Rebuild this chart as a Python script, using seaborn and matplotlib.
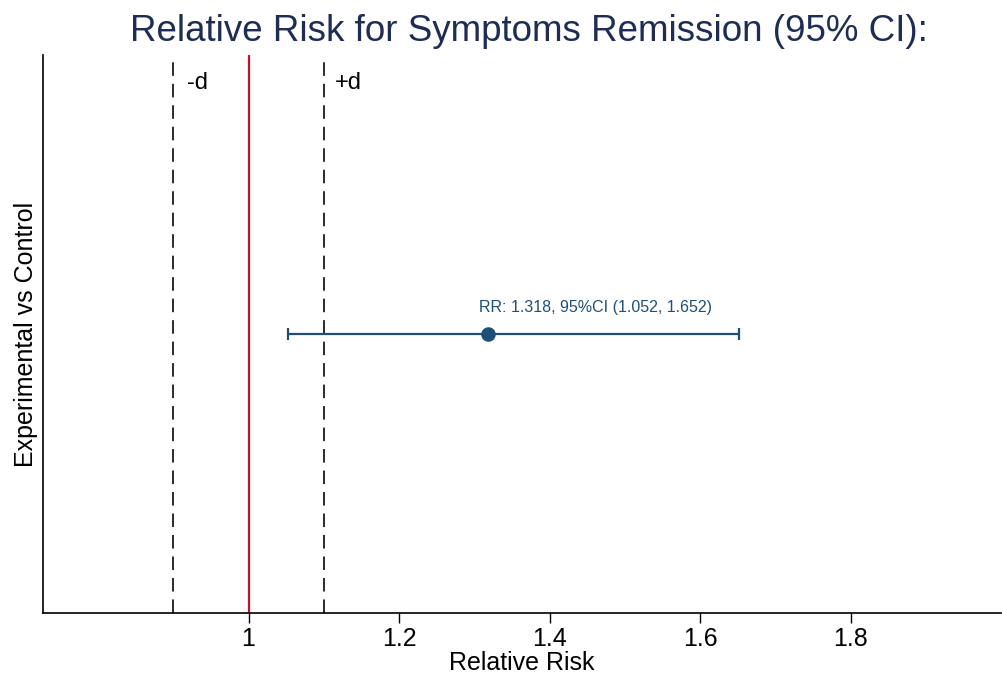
import matplotlib
matplotlib.use("Agg")
import matplotlib.pyplot as plt
import seaborn as sns
import pandas as pd

# ---- data ----
comparison = ["Experimental vs Control"]
rr = [1.318]
ci_low = [1.052]
ci_high = [1.652]
null_value = 1.0
margin_low = 0.9
margin_high = 1.1
x_ticks = [1.0, 1.2, 1.4, 1.6, 1.8]
x_tick_labels = ["1", "1.2", "1.4", "1.6", "1.8"]
x_range = [0.727, 2.0]

df = pd.DataFrame({"comparison": comparison, "rr": rr, "lo": ci_low, "hi": ci_high, "y": [0]})

sns.set_theme(style="white")
plt.rcParams["font.family"] = ["Liberation Sans", "DejaVu Sans"]

fig = plt.figure(figsize=(10.02, 6.75), dpi=100)
ax = fig.add_axes([0.043, 0.092, 0.956, 0.8265])

navy = "#1F4E79"
ax.axvline(null_value, color="#C8102E", lw=1.6, zorder=1)
for m in (margin_low, margin_high):
    ax.axvline(m, color="#1a1a1a", lw=1.3, linestyle=(0, (7.5, 4.4)), zorder=1)

ax.errorbar(df["rr"], df["y"], xerr=[df["rr"] - df["lo"], df["hi"] - df["rr"]],
            fmt="none", ecolor=navy, elinewidth=1.6, capsize=4.5, capthick=1.6, zorder=2)
sns.scatterplot(data=df, x="rr", y="y", color=navy, s=110, edgecolor=navy, linewidth=0, ax=ax, zorder=3)

for _, r in df.iterrows():
    ax.annotate(f"RR: {r.rr:.3f}, 95%CI ({r.lo:.3f}, {r.hi:.3f})", xy=(r.rr, r.y),
                xytext=(-6, 14), textcoords="offset points", ha="left", va="bottom",
                fontsize=11.5, color=navy)

ax.annotate("-d", xy=(margin_low, 1), xycoords=("data", "axes fraction"), xytext=(10, -12),
            textcoords="offset points", ha="left", va="top", fontsize=17, color="black")
ax.annotate("+d", xy=(margin_high, 1), xycoords=("data", "axes fraction"), xytext=(8, -12),
            textcoords="offset points", ha="left", va="top", fontsize=17, color="black")

ax.set_xlim(*x_range)
ax.set_ylim(-1, 1)
ax.set_xticks(x_ticks)
ax.set_xticklabels(x_tick_labels, fontsize=18, color="black")
ax.set_yticks([])
ax.tick_params(axis="x", direction="out", length=7, width=1, color="black", bottom=True, pad=3)
ax.set_xlabel("Relative Risk", fontsize=18, labelpad=0, color="black")
ax.set_ylabel(comparison[0], fontsize=18, labelpad=4, color="black")
ax.set_title("Relative Risk for Symptoms Remission (95% CI):", fontsize=26.5, color="#1F2D55",
             pad=10, x=0.5075)

sns.despine(ax=ax, top=True, right=True)
for s in ("left", "bottom"):
    ax.spines[s].set_color("black")
    ax.spines[s].set_linewidth(1.2)

fig.savefig("out.png", dpi=100)
